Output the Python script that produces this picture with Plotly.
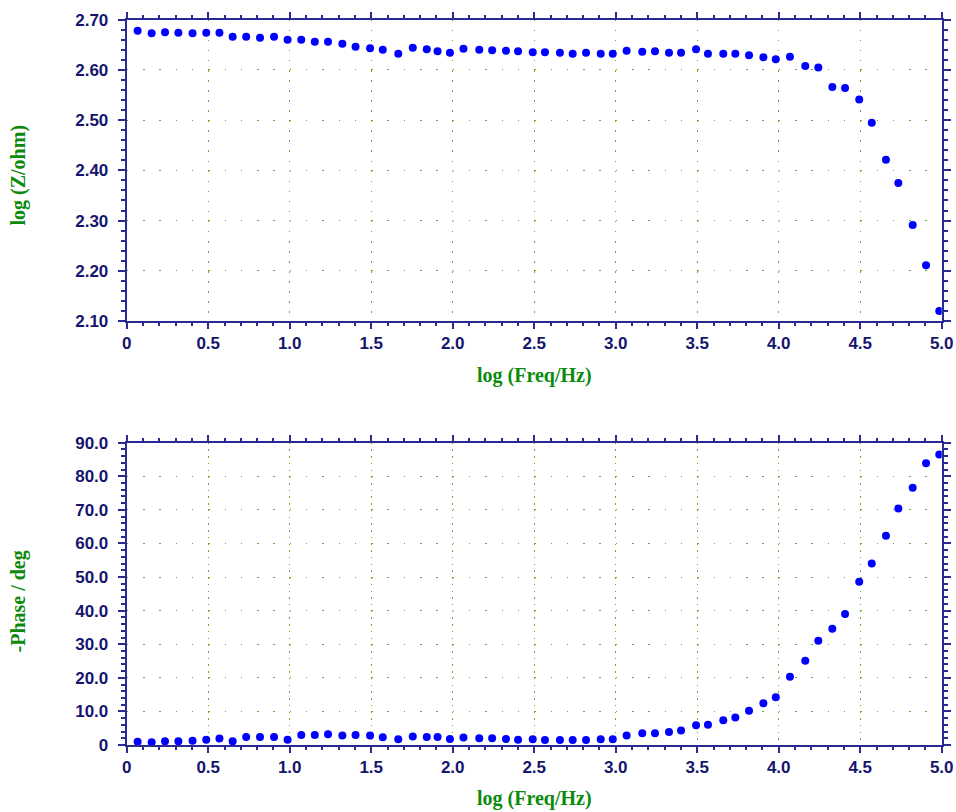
import plotly.graph_objects as go

# ---- data ----
log_freq = [0.067, 0.153, 0.235, 0.317, 0.404, 0.488, 0.569, 0.650, 0.733, 0.818,
            0.904, 0.987, 1.071, 1.154, 1.235, 1.323, 1.404, 1.493, 1.571, 1.666,
            1.755, 1.841, 1.907, 1.983, 2.066, 2.163, 2.242, 2.327, 2.401, 2.491,
            2.566, 2.658, 2.736, 2.818, 2.908, 2.982, 3.067, 3.163, 3.241, 3.327,
            3.401, 3.493, 3.566, 3.660, 3.734, 3.818, 3.906, 3.982, 4.069, 4.163,
            4.243, 4.329, 4.407, 4.494, 4.571, 4.658, 4.734, 4.822, 4.904, 4.985]

log_z = [2.678, 2.673, 2.675, 2.674, 2.673, 2.674, 2.674, 2.666, 2.666, 2.664,
         2.666, 2.660, 2.660, 2.656, 2.656, 2.652, 2.646, 2.643, 2.640, 2.632,
         2.644, 2.641, 2.637, 2.634, 2.642, 2.640, 2.639, 2.638, 2.637, 2.635,
         2.635, 2.634, 2.632, 2.634, 2.632, 2.632, 2.638, 2.636, 2.637, 2.634,
         2.634, 2.641, 2.632, 2.632, 2.632, 2.629, 2.625, 2.621, 2.626, 2.608,
         2.605, 2.566, 2.564, 2.541, 2.495, 2.421, 2.375, 2.291, 2.211, 2.120]

neg_phase = [1.0, 0.8, 1.1, 1.1, 1.3, 1.6, 1.9, 1.1, 2.4, 2.4,
             2.4, 1.6, 3.0, 3.0, 3.2, 2.8, 3.0, 2.8, 2.3, 1.7,
             2.5, 2.4, 2.4, 1.8, 2.2, 2.0, 2.0, 1.8, 1.6, 1.7,
             1.5, 1.5, 1.5, 1.5, 1.7, 1.7, 2.8, 3.5, 3.5, 3.9,
             4.3, 5.9, 6.0, 7.4, 8.2, 10.2, 12.4, 14.2, 20.3, 25.1,
             31.0, 34.6, 39.0, 48.6, 54.0, 62.3, 70.4, 76.6, 83.9, 86.5]

x_tickvals = [0, 0.5, 1.0, 1.5, 2.0, 2.5, 3.0, 3.5, 4.0, 4.5, 5.0]
x_ticktext = ["0", "0.5", "1.0", "1.5", "2.0", "2.5", "3.0", "3.5", "4.0", "4.5", "5.0"]
z_tickvals = [2.10, 2.20, 2.30, 2.40, 2.50, 2.60, 2.70]
z_ticktext = ["2.10", "2.20", "2.30", "2.40", "2.50", "2.60", "2.70"]
ph_tickvals = [0, 10, 20, 30, 40, 50, 60, 70, 80, 90]
ph_ticktext = ["0", "10.0", "20.0", "30.0", "40.0", "50.0", "60.0", "70.0", "80.0", "90.0"]

W, H = 956, 812
NAVY = "#15156e"
AXIS = "#2a2a92"
GREEN = "#0c8a0c"
GRID = "#6aaa30"

def px(v):
    return v / W

def py(v):
    return 1 - v / H

fig = go.Figure()
fig.add_trace(go.Scatter(x=log_freq, y=log_z, mode="markers",
                         marker=dict(color="#0000ff", size=8, symbol="circle"),
                         xaxis="x", yaxis="y", showlegend=False))
fig.add_trace(go.Scatter(x=log_freq, y=neg_phase, mode="markers",
                         marker=dict(color="#0000ff", size=8, symbol="circle"),
                         xaxis="x2", yaxis="y2", showlegend=False))

xdom = [px(126.7), px(941.7)]
tick_font = dict(family="Liberation Sans, Arial, sans-serif", size=17, color=NAVY, weight="bold")

common_x = dict(range=[0, 5.0], domain=xdom, tickvals=x_tickvals, ticktext=x_ticktext,
                ticks="outside", ticklen=6, tickwidth=1.5, tickcolor=AXIS,
                showline=True, linecolor=AXIS, linewidth=2, mirror="ticks",
                showgrid=True, gridcolor=GRID, gridwidth=1,
                zeroline=False, tickfont=tick_font, automargin=False,
                minor=dict(dtick=0.1, tick0=0, ticks="outside", ticklen=3,
                           tickwidth=1.5, tickcolor=AXIS, showgrid=False),
                fixedrange=True)

common_y = dict(ticks="outside", ticklen=7, tickwidth=1.5, tickcolor=AXIS,
                showline=True, linecolor=AXIS, linewidth=2, mirror="ticks",
                showgrid=True, gridcolor=GRID, gridwidth=1, griddash="1.5px,14.8px",
                zeroline=False, tickfont=tick_font, automargin=False,
                ticklabelstandoff=6, fixedrange=True)

fig.update_layout(
    width=W, height=H,
    margin=dict(l=0, r=0, t=0, b=0),
    paper_bgcolor="white", plot_bgcolor="white",
    xaxis=dict(common_x, anchor="y", griddash="1.5px,8.56px"),
    xaxis2=dict(common_x, anchor="y2", griddash="1.5px,5.22px"),
    yaxis=dict(common_y, range=[2.10, 2.70], domain=[py(321), py(19.7)], anchor="x",
               tickvals=z_tickvals, ticktext=z_ticktext,
               minor=dict(dtick=0.02, tick0=2.10, ticks="outside", ticklen=4,
                          tickwidth=1.5, tickcolor=AXIS, showgrid=False)),
    yaxis2=dict(common_y, range=[0, 90], domain=[py(745), py(442.7)], anchor="x2",
                tickvals=ph_tickvals, ticktext=ph_ticktext,
                minor=dict(dtick=2, tick0=0, ticks="outside", ticklen=4,
                           tickwidth=1.5, tickcolor=AXIS, showgrid=False)),
)

title_font = dict(family="Liberation Serif, Times New Roman, serif", size=20, color=GREEN, weight="bold")
annos = [
    dict(text="log (Freq/Hz)", x=px(534), y=py(375)),
    dict(text="log (Freq/Hz)", x=px(534), y=py(798)),
    dict(text="log (Z/ohm)", x=px(18), y=py(175.5), textangle=-90),
    dict(text="-Phase / deg", x=px(18), y=py(601.5), textangle=-90),
]
for a in annos:
    fig.add_annotation(xref="paper", yref="paper", showarrow=False,
                       xanchor="center", yanchor="middle", font=title_font, **a)

fig.write_html("out.html", config={"displayModeBar": False},
               post_script="document.body.style.margin='0px';document.body.style.overflow='hidden';")
